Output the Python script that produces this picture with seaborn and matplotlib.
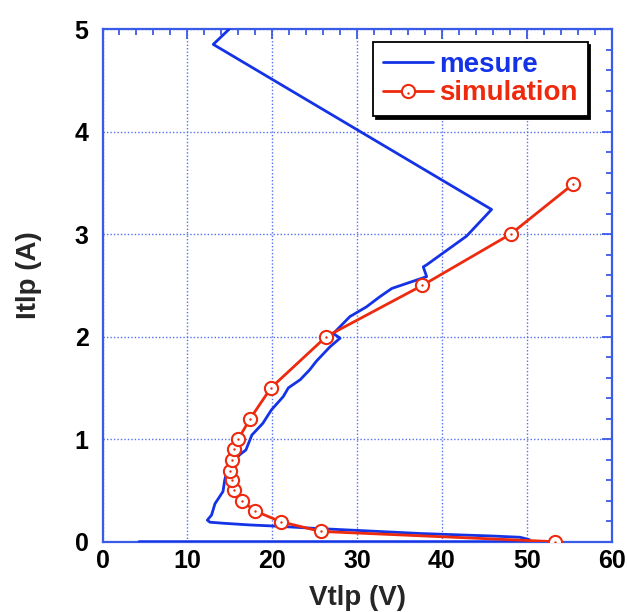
import matplotlib
matplotlib.use("Agg")
import matplotlib.pyplot as plt
import seaborn as sns
import numpy as np
import pandas as pd
from matplotlib.ticker import MultipleLocator
from matplotlib.legend_handler import HandlerTuple

# ---- data ----
mesure_v = [4.3, 50.0, 50.3, 49.2, 46.0, 42.5, 37.4, 30.0, 25.0, 20.1, 17.4, 14.2, 12.66, 12.35,
            12.85, 13.25, 13.65, 14.2, 14.4, 14.8, 15.6, 16.2, 16.9, 17.6, 18.9, 19.9, 21.3,
            21.9, 23.3, 24.4, 25.2, 26.8, 28.0, 27.2, 29.15, 31.1, 32.7, 34.1, 36.6, 38.2,
            37.8, 38.2, 42.9, 45.85, 13.05, 15.2]
mesure_i = [0.0, 0.0, 0.02, 0.043, 0.055, 0.065, 0.08, 0.11, 0.13, 0.153, 0.163, 0.18, 0.19, 0.21,
            0.26, 0.37, 0.42, 0.49, 0.60, 0.73, 0.80, 0.85, 0.895, 1.04, 1.155, 1.285, 1.415,
            1.50, 1.58, 1.675, 1.76, 1.90, 1.985, 2.03, 2.195, 2.29, 2.39, 2.47, 2.54, 2.585,
            2.68, 2.70, 2.98, 3.24, 4.85, 5.02]

sim_v = [53.3, 25.7, 21.0, 17.96, 16.4, 15.5, 15.25, 15.0, 15.25, 15.5, 16.0, 17.4, 19.85,
         26.36, 37.7, 48.1, 55.5]
sim_i = [0.0, 0.10, 0.195, 0.30, 0.40, 0.50, 0.60, 0.69, 0.80, 0.90, 1.0, 1.2, 1.5,
         2.0, 2.5, 3.0, 3.49]

x_ticks = [0, 10, 20, 30, 40, 50, 60]
y_ticks = [0, 1, 2, 3, 4, 5]
labels = ["mesure", "simulation"]

BLUE = "#1432e6"
RED = "#ee2a0e"
AXBLUE = "#3a5ae8"
GRIDBLUE = "#5570f0"

sns.set_style("white")
plt.rcParams['font.family'] = ['Liberation Sans', 'DejaVu Sans']
plt.rcParams['font.weight'] = 'bold'

fig = plt.figure(figsize=(6.27, 6.12), dpi=100)
ax = fig.add_axes([0.1635, 0.1149, 0.812, 0.8377])

df_m = pd.DataFrame({"V": mesure_v, "I": mesure_i})
df_s = pd.DataFrame({"V": sim_v, "I": sim_i})

sns.lineplot(data=df_m, x="V", y="I", sort=False, estimator=None, color=BLUE,
             linewidth=2.0, ax=ax, zorder=3)
sns.lineplot(data=df_s, x="V", y="I", sort=False, estimator=None, color=RED,
             linewidth=2.0, marker="o", markersize=9.5, markerfacecolor="white",
             markeredgecolor=RED, markeredgewidth=1.5, ax=ax, zorder=4)
sns.scatterplot(data=df_s, x="V", y="I", color=RED, s=3, linewidth=0, ax=ax, zorder=5)

lines = ax.get_lines()
line_m = lines[0]
line_s = lines[1]
dots = ax.collections[-1]

ax.set_xlim(0, 60)
ax.set_ylim(0, 5)
ax.set_xticks(x_ticks)
ax.set_yticks(y_ticks)
ax.xaxis.set_minor_locator(MultipleLocator(2))
ax.yaxis.set_minor_locator(MultipleLocator(0.2))
ax.grid(True, which="major", color=GRIDBLUE, linestyle=(0, (1, 1.5)), linewidth=1.0)
ax.set_axisbelow(True)

for sp in ax.spines.values():
    sp.set_color(AXBLUE)
    sp.set_linewidth(1.6)
    sp.set_visible(True)

ax.tick_params(which="both", direction="in", top=True, right=True, color=AXBLUE, width=1.3)
ax.tick_params(which="major", length=7)
ax.tick_params(which="minor", length=4)
ax.tick_params(axis="x", which="major", labelsize=18, pad=5, labelcolor="black")
ax.tick_params(axis="y", which="major", labelsize=18, pad=10, labelcolor="black")
for t in ax.get_xticklabels() + ax.get_yticklabels():
    t.set_fontweight("bold")

ax.set_xlabel("Vtlp (V)", fontsize=20, fontweight="bold", labelpad=9)
ax.set_ylabel("Itlp (A)", fontsize=20, fontweight="bold")
ax.yaxis.set_label_coords(-0.118, 0.52)

leg = ax.legend(handles=[line_m, (line_s, dots)], labels=labels,
                handler_map={tuple: HandlerTuple(ndivide=1)},
                loc="upper right", bbox_to_anchor=(0.953, 0.975), borderaxespad=0,
                prop={"weight": "bold", "size": 20},
                frameon=True, fancybox=False, shadow={"color": "black", "alpha": 1.0},
                handlelength=1.8, handletextpad=0.25, labelspacing=0.1,
                borderpad=0.35)
leg.get_frame().set_edgecolor("black")
leg.get_frame().set_linewidth(1.3)
leg.get_frame().set_alpha(1.0)
leg.texts[0].set_color(BLUE)
leg.texts[1].set_color(RED)

fig.savefig("out.png", dpi=100)
